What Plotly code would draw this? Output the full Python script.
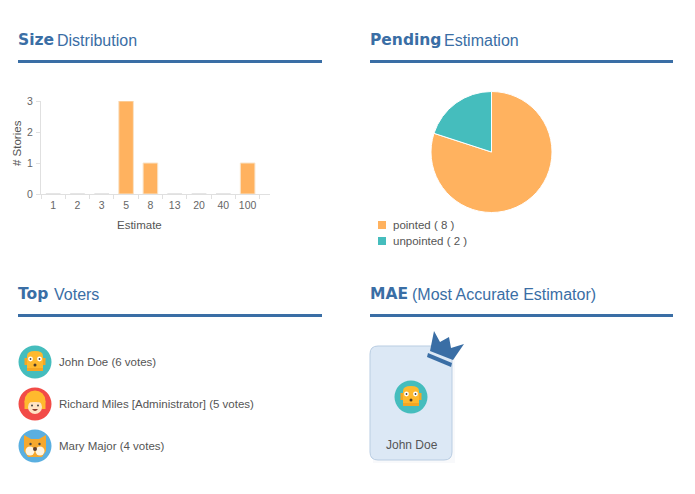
import plotly.graph_objects as go

W, H = 695, 494
estimates = ["1", "2", "3", "5", "8", "13", "20", "40", "100"]
story_counts = [0, 0, 0, 3, 1, 0, 0, 0, 1]
pie_labels = ["pointed", "unpointed"]
pie_values = [8, 2]
pie_colors = ["#FFB25F", "#45BDBD"]
voter_names = ["John Doe", "Richard Miles [Administrator]", "Mary Major"]
voter_votes = [6, 5, 4]
mae_name = "John Doe"
headings = [("Size", "Distribution"), ("Pending", "Estimation"), ("Top", "Voters"), ("MAE", "(Most Accurate Estimator)")]

BLUE = "#3A6EA5"
TEAL, RED, SKY = "#45BDBD", "#F24B47", "#5AAFE0"
shapes, annos = [], []


def px(x0, x1):
    return [x0 / W, x1 / W]


def py(y0, y1):
    return [1 - y1 / H, 1 - y0 / H]


def text(x, y, s, size=11.5, color="#555555", anchor="left", font="Liberation Sans", **kw):
    annos.append(dict(xref="x3", yref="y3", x=x, y=y, text=s, showarrow=False, xanchor=anchor, yanchor="middle",
                      borderpad=0, borderwidth=0, font=dict(family=font, size=size, color=color), **kw))


def shape(kind, x0, y0, x1, y1, fill, line=None, lw=0):
    shapes.append(dict(type=kind, xref="x3", yref="y3", x0=x0, y0=y0, x1=x1, y1=y1, fillcolor=fill,
                       line=dict(color=line or fill, width=lw), layer="above"))


def path(d, fill, line=None, lw=0):
    shapes.append(dict(type="path", xref="x3", yref="y3", path=d, fillcolor=fill,
                       line=dict(color=line or fill, width=lw), layer="above"))


def circ(cx, cy, r, fill):
    shape("circle", cx - r, cy - r, cx + r, cy + r, fill)


def poly(points, fill):
    path("M" + " L".join(f"{a:.1f},{b:.1f}" for a, b in points) + " Z", fill)


def robot(cx, cy):
    circ(cx, cy, 16.5, TEAL)
    shape("rect", cx - 10.5, cy - 4, cx + 10.5, cy + 3, "#F5A623")
    path(f"M{cx-8},{cy+9} L{cx-8},{cy-6} Q{cx-8},{cy-11} {cx},{cy-11} Q{cx+8},{cy-11} {cx+8},{cy-6} L{cx+8},{cy+9} Z", "#FFB92E")
    shape("rect", cx - 8, cy + 6, cx + 8, cy + 9, "#F5A623")
    circ(cx - 4.5, cy - 3, 2.4, "white")
    circ(cx + 4.5, cy - 3, 2.4, "white")
    circ(cx - 4.5, cy - 3, 0.9, "#444")
    circ(cx + 4.5, cy - 3, 0.9, "#444")
    circ(cx, cy + 3, 1.5, "#4A3A2A")


def person(cx, cy):
    circ(cx, cy, 16.5, RED)
    circ(cx, cy - 3, 10.5, "#FFB92E")
    shape("rect", cx - 10.5, cy - 3, cx - 6, cy + 5, "#FFB92E")
    shape("rect", cx + 6, cy - 3, cx + 10.5, cy + 5, "#FFB92E")
    circ(cx, cy + 3, 7, "#FFE3C4")
    path(f"M{cx-8},{cy-1} Q{cx},{cy-9} {cx+8},{cy-1} Q{cx},{cy-3} {cx-8},{cy-1} Z", "#FFB92E")
    circ(cx - 3, cy + 1.5, 1, "#444")
    circ(cx + 3, cy + 1.5, 1, "#444")
    path(f"M{cx-3},{cy+5} Q{cx},{cy+9} {cx+3},{cy+5} Z", "#8A3B2F")


def cat(cx, cy):
    circ(cx, cy, 16.5, SKY)
    poly([(cx - 11, cy - 11), (cx - 4, cy - 7), (cx + 4, cy - 7), (cx + 11, cy - 11), (cx + 11, cy + 5), (cx + 7, cy + 11), (cx - 7, cy + 11), (cx - 11, cy + 5)], "#F5A82E")
    circ(cx - 5, cy + 5, 4.5, "#FFF4E0")
    circ(cx + 5, cy + 5, 4.5, "#FFF4E0")
    circ(cx - 4.5, cy - 2, 1.2, "#444")
    circ(cx + 4.5, cy - 2, 1.2, "#444")
    circ(cx, cy + 3, 2, "#5A3A2A")


# Headings with rules
head_pos = [(18, 40, 322), (370, 40, 673), (18, 294, 322), (370, 294, 673)]
thin_offset = [39, 74, 36, 42]
for (bold, thin), (x, y, x1), off in zip(headings, head_pos, thin_offset):
    text(x, y, f"<b>{bold}</b>", size=15.5, color=BLUE, font="DejaVu Sans")
    text(x + off, y, thin, size=16, color=BLUE)
    shape("rect", x, y + 20, x1, y + 23, BLUE)

# Pie legend
for i, (lab, val, col) in enumerate(zip(pie_labels, pie_values, pie_colors)):
    y = 225 + 16 * i
    shape("rect", 378, y - 4, 386, y + 4, col)
    text(393, y, f"{lab} ( {val} )", size=11.5)

# Voters
faces = [robot, person, cat]
for i, (name, votes, face) in enumerate(zip(voter_names, voter_votes, faces)):
    y = 362 + 42 * i
    face(35, y)
    text(59, y, f"{name} ({votes} votes)", size=11.5)

# MAE card
shape("rect", 373, 349, 455, 463, "rgba(120,140,170,0.05)")
path("M378,346 L444,346 Q452,346 452,354 L452,452 Q452,460 444,460 L378,460 Q370,460 370,452 L370,354 Q370,346 378,346 Z",
     "#DCE8F5", "#B9CDE2", 1)
robot(411, 397)
text(412, 445, mae_name, size=12, anchor="center", color="#555555")
poly([(430, 351), (434, 331), (440, 342), (449, 337), (451, 348), (464, 344), (453, 360)], BLUE)
poly([(428, 353), (452, 363), (451, 367), (427, 357)], BLUE)

# Axis titles placed in pixel space
text(139, 225, "Estimate", size=11.5, anchor="center")
text(17, 143, "# Stories", size=11.5, anchor="center", textangle=-90)

fig = go.Figure()
fig.add_trace(go.Bar(x=estimates, y=story_counts, xaxis="x", yaxis="y", width=0.6,
                     marker=dict(color="#FFB25F", line=dict(color=["#DDDDDD" if v == 0 else "#F9E3C8" for v in story_counts], width=1)),
                     showlegend=False))
fig.add_trace(go.Pie(labels=pie_labels, values=pie_values, sort=False, direction="clockwise", rotation=0,
                     marker=dict(colors=pie_colors, line=dict(color="white", width=1)), textinfo="none",
                     domain=dict(x=px(431, 552), y=py(91.5, 212.5)), showlegend=False))
# Invisible pixel-space overlay axis holds the text and decorations
fig.add_trace(go.Scatter(x=[0, W], y=[0, H], xaxis="x3", yaxis="y3", mode="markers", marker=dict(opacity=0),
                         hoverinfo="skip", showlegend=False))

fig.update_layout(
    width=W, height=H, autosize=False, margin=dict(l=0, r=0, t=0, b=0, autoexpand=False), paper_bgcolor="white", plot_bgcolor="rgba(0,0,0,0)",
    font=dict(family="Liberation Sans", color="#666666", size=11),
    shapes=shapes, annotations=annos,
    xaxis=dict(domain=px(41, 270), anchor="y", type="category", range=[-0.5, 8.92], tickson="boundaries", ticks="outside",
               ticklen=4, tickcolor="#E0E0E0", showline=True, linecolor="#E0E0E0", showgrid=False, zeroline=False, tickangle=0,
               ticklabelstandoff=1, automargin=False, tickfont=dict(size=10.5, color="#666666")),
    yaxis=dict(domain=py(101, 194), anchor="x", range=[0, 3], tickvals=[0, 1, 2, 3], ticks="outside", ticklen=4,
               tickcolor="#E0E0E0", showline=True, linecolor="#E0E0E0", showgrid=False, zeroline=False,
               ticklabelstandoff=1, automargin=False, tickfont=dict(size=10.5, color="#666666")),
    xaxis3=dict(domain=[0, 1], anchor="y3", range=[0, W], visible=False, fixedrange=True),
    yaxis3=dict(domain=[0, 1], anchor="x3", range=[H, 0], visible=False, fixedrange=True),
)
fig.write_html("out.html", post_script="document.body.style.margin='0';", config=dict(displayModeBar=False))
